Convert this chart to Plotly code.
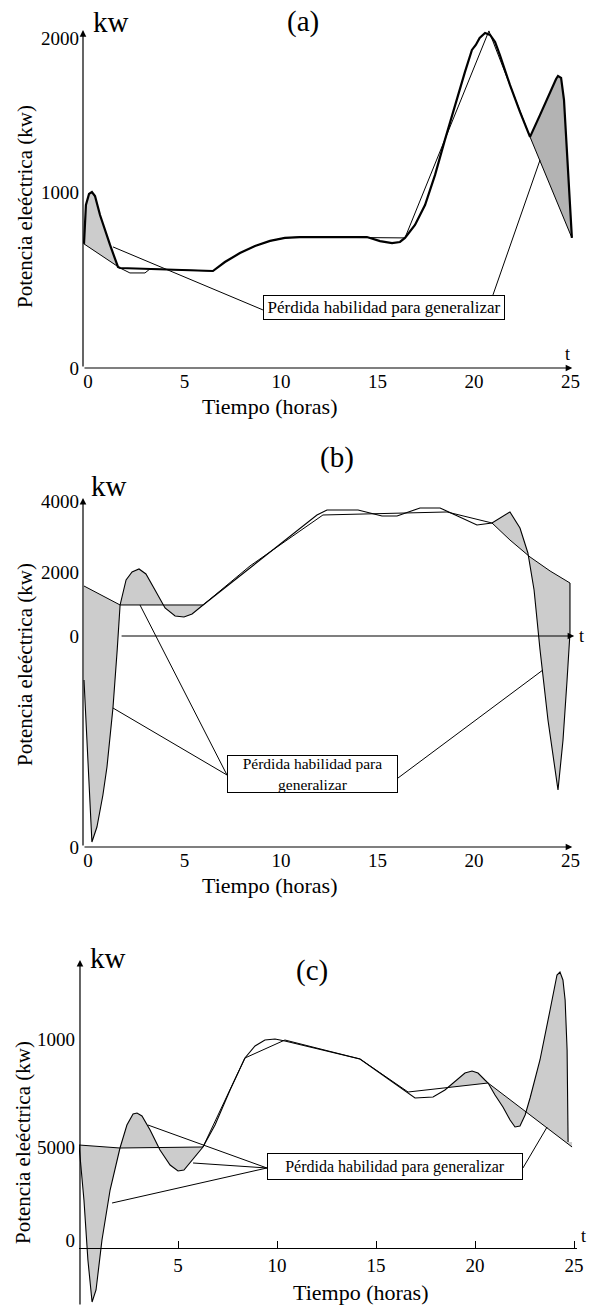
import numpy as np
import plotly.graph_objects as go

# ---------------- data (hours, kW in each panel's drawn scale) ----------------
# Panel (a)
a_real_t = [0, 0.1, 0.26, 0.41, 0.57, 0.83, 1.35, 1.76, 1.87, 3.42, 6.68, 7.3, 8.08, 8.86, 9.64,
            10.41, 11.19, 14.66, 15.34, 15.96, 16.37, 16.63, 17.15, 17.67, 18.19, 18.7, 19.22,
            19.74, 20.1, 20.3, 20.5, 20.78, 21.04, 21.3, 21.55, 22.07, 22.59, 23.11, 23.63,
            24.15, 24.46, 24.56, 24.72, 24.87, 25.08, 25.28]
a_real_kw = [705, 926, 989, 1000, 977, 869, 699, 574, 568, 563, 551, 602, 653, 693, 722,
             739, 744, 744, 721, 710, 716, 739, 813, 926, 1097, 1296, 1494,
             1682, 1807, 1835, 1875, 1903, 1892, 1852, 1778, 1608, 1455, 1313, 1438,
             1568, 1642, 1659, 1648, 1523, 1125, 739]
a_aprox_t = [0, 1.87, 2.38, 3.16, 3.42, 6.68, 7.3, 8.08, 8.86, 9.64, 10.41, 11.19, 16.63,
             20.98, 23.11, 25.28]
a_aprox_kw = [705, 568, 540, 540, 563, 551, 602, 653, 693, 722, 739, 744, 739,
              1915, 1313, 739]
a_shade = [(0, 1.87), (23.11, 25.28)]

# Panel (b)
b_real_t = [0, 0.2, 0.41, 0.67, 0.98, 1.19, 1.5, 1.72, 1.87, 2.18, 2.49, 2.85, 3.21, 3.68,
            4.2, 4.72, 5.18, 5.6, 6.17, 8.6, 11.19, 12.07, 12.59, 14.2, 15.44, 16.22, 17.41,
            18.45, 20.36, 21.14, 22.07, 22.59, 23.0, 23.32, 23.63, 24.04, 24.56, 24.82,
            25.03, 25.18, 25.18]
b_real_kw = [-1375, -3900, -6438, -5969, -4969, -4094, -2250, -438, 969, 1750, 2000, 2094,
             1938, 1438, 875, 625, 594, 688, 969, 2125, 3375, 3781, 3938, 3938, 3750, 3750,
             4000, 4000, 3469, 3531, 3875, 3375, 2594, 1438, -438, -2625, -4812, -3250,
             -1375, 94, 1656]
b_aprox_t = [0, 1.87, 6.17, 8.6, 11.19, 12.38, 18.81, 21.14, 22.07, 23.11, 24.15, 25.18]
b_aprox_kw = [1562, 969, 969, 2188, 3281, 3781, 3875, 3531, 3000, 2469, 2031, 1656]
b_shade = [(0, 1.87), (1.87, 6.17), (21.14, 25.18)]

# Panel (c)
c_real_t = [0, 0.25, 0.45, 0.66, 0.86, 1.16, 1.57, 2.07, 2.42, 2.73, 2.93, 3.18, 3.59, 4.09,
            4.6, 5.0, 5.3, 5.71, 6.26, 6.87, 7.63, 8.38, 8.89, 9.39, 9.9, 10.4, 14.19, 16.97,
            17.88, 18.48, 19.09, 19.49, 19.85, 20.15, 20.5, 20.66, 21.01, 21.41, 21.77,
            22.02, 22.27, 22.53, 22.78, 23.28, 23.79, 24.04, 24.14, 24.29, 24.44, 24.55,
            24.65, 24.7]
c_real_kw = [5107, 2150, -1075, -3333, -2688, 0, 2688, 4946, 6182, 6774, 6827, 6666, 5914,
             4838, 4032, 3709, 3763, 4301, 5000, 6182, 8064, 9784, 10429, 10752, 10806,
             10698, 9731, 7634, 7688, 8064, 8602, 8978, 9085, 8978, 8602, 8440, 7795, 7150,
             6451, 6075, 6128, 6720, 7634, 9677, 12365, 13709, 14246, 14408, 13978, 12902,
             10214, 5268]
c_aprox_t = [0, 2.07, 6.26, 8.38, 10.4, 14.19, 16.62, 20.66, 24.9]
c_aprox_kw = [5107, 4946, 5000, 9784, 10752, 9731, 7956, 8440, 5000]
c_shade = [(0, 2.07), (2.07, 6.26), (18.62, 20.66), (20.66, 24.9)]

x_ticks = [0, 5, 10, 15, 20, 25]
c_x_ticks = [5, 10, 15, 20, 25]
a_y_ticks = [0, 1000, 1875]
a_y_text = ["0", "1000", "2000"]
b_y_ticks = [-6594, 0, 2000, 4200]
b_y_text = ["0", "0", "2000", "4000"]
c_y_ticks = [0, 5000, 10800]
c_y_text = ["0", "5000", "1000"]

label_box = "Pérdida habilidad para generalizar"
label_box_b = "Pérdida habilidad para<br>generalizar"
y_title = "Potencia eleéctrica (kw)"
x_title = "Tiempo (horas)"

# ---------------- helpers ----------------
FONT = "Liberation Serif"
W, H = 600, 1306


def P(px, py):
    return px / W, 1 - py / H


def seg(ts, vs, lo, hi):
    ts = np.asarray(ts, float)
    vs = np.asarray(vs, float)
    m = (ts >= lo - 1e-9) & (ts <= hi + 1e-9)
    xs, ys = list(ts[m]), list(vs[m])
    if not xs or xs[0] > lo + 1e-9:
        xs.insert(0, lo)
        ys.insert(0, float(np.interp(lo, ts, vs)))
    if xs[-1] < hi - 1e-9:
        xs.append(hi)
        ys.append(float(np.interp(hi, ts, vs)))
    return xs, ys


def band(rt, rv, at, av, lo, hi):
    x1, y1 = seg(rt, rv, lo, hi)
    x2, y2 = seg(at, av, lo, hi)
    return x1 + x2[::-1], y1 + y2[::-1]


fig = go.Figure()

panels = [
    ("x", "y", a_real_t, a_real_kw, a_aprox_t, a_aprox_kw, a_shade, 2.2),
    ("x2", "y2", b_real_t, b_real_kw, b_aprox_t, b_aprox_kw, b_shade, 1.1),
    ("x3", "y3", c_real_t, c_real_kw, c_aprox_t, c_aprox_kw, c_shade, 1.1),
]
for i, (xr, yr, rt, rv, at, av, shade, rw) in enumerate(panels):
    for j, (lo, hi) in enumerate(shade):
        color = "#cccccc"
        if i == 0 and j == 1:
            color = "#b3b3b3"
        px_, py_ = band(rt, rv, at, av, lo, hi)
        fig.add_trace(go.Scatter(x=px_, y=py_, xaxis=xr, yaxis=yr, mode="lines",
                                 fill="toself", fillcolor=color,
                                 line=dict(width=0), hoverinfo="skip"))
    fig.add_trace(go.Scatter(x=at, y=av, xaxis=xr, yaxis=yr, mode="lines",
                             line=dict(color="black", width=1.0), name="aprox"))
    fig.add_trace(go.Scatter(x=rt, y=rv, xaxis=xr, yaxis=yr, mode="lines",
                             line=dict(color="black", width=rw), name="real"))

tickfont = dict(family=FONT, size=19, color="black")
common_x = dict(showgrid=False, zeroline=False, showline=False, ticks="",
                tickfont=tickfont, fixedrange=True, automargin=False, ticklabelshift=4)
common_y = dict(showgrid=False, zeroline=False, showline=False, ticks="",
                tickfont=tickfont, fixedrange=True, automargin=False, ticklabelstandoff=3)

fig.update_layout(
    width=W, height=H, margin=dict(l=0, r=0, t=0, b=0, pad=0, autoexpand=False),
    paper_bgcolor="white", plot_bgcolor="rgba(0,0,0,0)", showlegend=False,
    xaxis=dict(domain=[83 / W, 1], range=[-0.0518, 26.736], anchor="y",
               tickvals=x_ticks, ticktext=[str(v) for v in x_ticks], **common_x),
    yaxis=dict(domain=[1 - 368 / H, 1 - 20 / H], range=[0, 1977], anchor="x",
               tickvals=a_y_ticks, ticktext=a_y_text, **common_y),
    xaxis2=dict(domain=[83 / W, 1], range=[-0.0518, 26.736], anchor="y2",
                tickvals=x_ticks, ticktext=[str(v) for v in x_ticks], **common_x),
    yaxis2=dict(domain=[1 - 847 / H, 1 - 490 / H], range=[-6594, 4562], anchor="x2",
                tickvals=b_y_ticks, ticktext=b_y_text, **common_y),
    xaxis3=dict(domain=[79 / W, 577 / W], range=[0, 25.15], anchor="free",
                position=1 - 1248 / H, tickvals=c_x_ticks,
                ticktext=[str(v) for v in c_x_ticks], showgrid=False, zeroline=False,
                showline=True, linecolor="black", linewidth=1.2, ticks="inside",
                ticklen=7, tickcolor="black", tickwidth=1.2, tickfont=tickfont,
                fixedrange=True, automargin=False),
    yaxis3=dict(domain=[0, 1 - 950 / H], range=[-3548, 15590], anchor="x3",
                tickvals=c_y_ticks, ticktext=c_y_text, **common_y),
)

ann = []


def arrow(xref, yref, x0, y0, x1, y1):
    ann.append(dict(xref=xref, yref=yref, axref=xref, ayref=yref, x=x1, y=y1, ax=x0, ay=y0,
                    text="", showarrow=True, arrowhead=2, arrowsize=1.1, arrowwidth=1.2,
                    arrowcolor="black", standoff=0, startstandoff=0))


# axes with arrow heads
arrow("x", "y", -0.0518, 0, -0.0518, 1920)
arrow("x", "y", -0.0518, 0, 25.3, 0)
arrow("x2", "y2", -0.0518, -6594, -0.0518, 4312)
arrow("x2", "y2", -0.0518, -6594, 25.3, -6594)
arrow("x2", "y2", 1.87, 0, 25.4, 0)
arrow("x3", "y3", 0.05, -3548, 0.05, 15053)


def text(px, py, s, size, angle=0):
    x, y = P(px, py)
    ann.append(dict(xref="paper", yref="paper", x=x, y=y, text=s, showarrow=False,
                    xanchor="center", yanchor="middle", textangle=angle,
                    font=dict(family=FONT, size=size, color="black")))


for (kx, ky, tx, ty, s, tpx, tpy, xtx, xty, ytx, yty) in [
    (111, 22, 303, 22, "(a)", 567, 354, 269, 406, 25, 207),
    (109, 486, 337, 457, "(b)", 581, 636, 269, 886, 25, 665),
    (108, 958, 312, 970, "(c)", 583, 1236, 360, 1292, 23, 1143),
]:
    text(kx, ky, "kw", 29)
    text(tx, ty, s, 29)
    text(tpx, tpy, "t", 18)
    text(xtx, xty, x_title, 22)
    text(ytx, yty, y_title, 21, -90)

# labelled boxes and their pointer lines
shapes = []


def pointer(xref, yref, x0, y0, x1, y1):
    shapes.append(dict(type="line", xref=xref, yref=yref, x0=x0, y0=y0, x1=x1, y1=y1,
                       line=dict(color="black", width=1), layer="above"))


pointer("x", "y", 9.27, 330, 1.5, 688)
pointer("x", "y", 21.19, 415, 23.63, 1182)
pointer("x2", "y2", 7.41, -4344, 1.5, -2250)
pointer("x2", "y2", 7.41, -4344, 2.9, 969)
pointer("x2", "y2", 16.27, -4438, 23.78, -1062)
pointer("x3", "y3", 9.49, 3871, 3.48, 6182)
pointer("x3", "y3", 9.49, 3871, 5.76, 4140)
pointer("x3", "y3", 9.49, 3871, 1.67, 1989)
pointer("x3", "y3", 22.42, 3871, 23.64, 6075)

for xref, yref, x, y, s, w, h, fs in [
    ("x", "y", 15.54, 344, label_box, 240, 23, 17),
    ("x2", "y2", 11.84, -4312, label_box_b, 169, 36, 15.5),
    ("x3", "y3", 15.96, 3951, label_box, 254, 25, 16),
]:
    ann.append(dict(xref=xref, yref=yref, x=x, y=y, text=s, showarrow=False,
                    xanchor="center", yanchor="middle", width=w, height=h,
                    bgcolor="white", bordercolor="black", borderwidth=1, borderpad=0,
                    align="center", valign="middle",
                    font=dict(family=FONT, size=fs, color="black")))

fig.update_layout(annotations=ann, shapes=shapes)
# remove the browser's default page margin so the figure fills the 600x1306 window exactly
fig.write_html("out.html", config={"displayModeBar": False},
               post_script="document.body.style.margin='0';document.body.style.overflow='hidden';")
